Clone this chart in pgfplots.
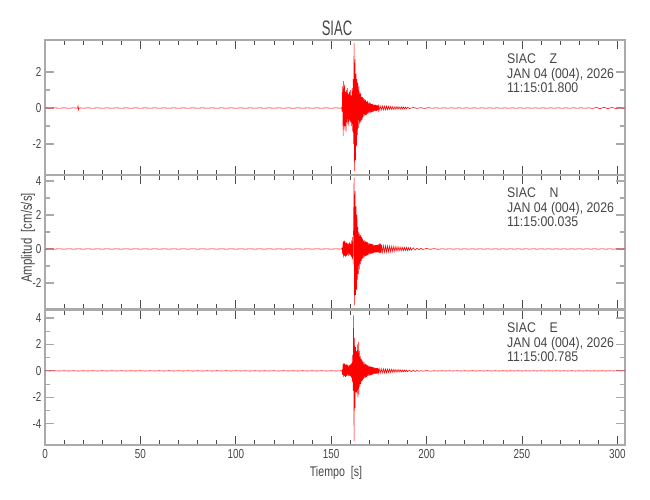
\documentclass[border=0pt]{standalone}
\usepackage{fontspec}
\setmainfont{Liberation Sans}[FakeStretch=0.76]
\newfontfamily\titlefont{Liberation Sans}[FakeStretch=0.62]
\newfontfamily\notefont{Liberation Sans}[FakeStretch=0.88]
\usepackage{pgfplots}
\pgfplotsset{compat=1.18}
\definecolor{framegray}{RGB}{170,170,170}
\definecolor{txt}{RGB}{70,70,70}
\definecolor{trace}{RGB}{255,0,0}
\pgfplotsset{panel/.style={
  scale only axis, width=580pt,
  xmin=0, xmax=304,
  axis line style={framegray, line width=1.6pt},
  xtick={0,50,...,300}, minor x tick num=4,
  minor y tick num=1,
  tick align=inside,
  xtick pos=both, ytick pos=both,
  major tick length=9pt, minor tick length=5pt,
  x tick style={black!70, line width=0.8pt},
  y tick style={framegray, line width=1.2pt},
  tick label style={font=\fontsize{13}{14}\selectfont, text=txt},
  /pgf/number format/assume math mode=true,
  xticklabel style={yshift=-1pt},
  clip=true,
}}
\begin{document}
\begin{tikzpicture}
\path[use as bounding box] (0,0) rectangle (650pt,500pt);
% ---------------- Z ----------------
\begin{axis}[panel, at={(45pt,325pt)}, anchor=south west, height=135pt,
  ymin=-3.72, ymax=3.78, ytick={-2,0,2}, xticklabels={}]
\addplot[trace, line width=0.55pt] coordinates {
(0,0.01) (2.5,-0.01) (5,0.01) (7.5,-0.01) (10,0.01) (12.5,-0.01) (15,0.01) (17,-0.01) (17.3,0.12) (17.6,-0.1) (18,0.01) (20,-0.01) (22.5,0.01) (25,-0.01) (27.5,0.01) (30,-0.01) (32.5,0.01) (35,-0.01) (37.5,0.01) (40,-0.01) (42.5,0.01) (45,-0.01) (47.5,0.01) (50,-0.01) (52.5,0.01) (55,-0.01) (57.5,0.01) (60,-0.01) (62.5,0.01) (65,-0.01) (67.5,0.01) (70,-0.01) (72.5,0.01) (75,-0.01) (77.5,0.01) (80,-0.01) (82.5,0.01) (85,-0.01) (87.5,0.01) (90,-0.01) (92.5,0.01) (95,-0.01) (97.5,0.01) (100,-0.01) (102.5,0.01) (105,-0.01) (107.5,0.01) (110,-0.01) (112.5,0.01) (115,-0.01) (117.5,0.01) (120,-0.01) (122.5,0.01) (125,-0.01) (127.5,0.01) (130,-0.01) (132.5,0.01) (135,-0.01) (137.5,0.01) (140,-0.01) (142.5,0.01) (145,-0.01) (147.5,0.01) (150,-0.01) (152.5,0.01) (155,-0.01) (155.5,0.02)
(155.75,-0.2) (156.0,1.2) (156.25,-1.55) (156.5,1.5) (156.75,-1.2) (157.0,1.3) (157.25,-1.0) (157.5,0.9) (157.75,-1.3) (158.0,1.0) (158.25,-0.8) (158.5,1.1) (158.75,-0.9) (159.0,0.8) (159.25,-1.0) (159.5,0.9) (159.75,-0.7) (160.0,1.0) (160.25,-0.8) (160.5,0.7) (160.75,-1.0) (161.0,1.1) (161.25,-1.3) (161.5,1.6) (161.75,-2.0) (162.0,3.6) (162.25,-3.5) (162.5,2.7) (162.75,-2.9) (163.0,1.9) (163.25,-2.1) (163.5,1.6) (163.75,-1.5) (164.0,1.4) (164.25,-1.1) (164.5,1.2) (164.75,-0.9) (165.0,0.9) (165.25,-0.8) (165.5,0.8) (165.75,-0.7) (166.0,0.6) (166.25,-0.65) (166.5,0.6) (166.75,-0.5) (167.0,0.55) (167.25,-0.45) (167.5,0.5) (167.75,-0.4) (168.0,0.45) (168.25,-0.4) (168.5,0.35) (168.75,-0.35) (169.0,0.4) (169.25,-0.3) (169.5,0.3) (169.75,-0.3) (170.0,0.32) (170.25,-0.25) (170.5,0.28) (170.75,-0.25) (171.0,0.22) (171.25,-0.22) (171.5,0.25) (171.75,-0.2) (172.0,0.2) (172.25,-0.2) (172.5,0.18) (172.75,-0.17) (173.0,0.2) (173.25,-0.15) (173.5,0.16) (173.75,-0.15) (174.0,0.14) (174.25,-0.13) (174.5,0.15) (174.75,-0.12) (175.0,0.13)
(175.5,-0.12) (176,0.12) (176.5,-0.11) (177,0.12) (177.5,-0.1) (178,0.11) (178.5,-0.1) (179,0.1) (179.5,-0.09) (180,0.1) (180.5,-0.08) (181,0.09) (181.5,-0.08) (182,0.08) (182.5,-0.08) (183,0.07) (183.5,-0.07) (184,0.08) (184.5,-0.06) (185,0.07) (185.5,-0.06) (186,0.06) (186.5,-0.06) (187,0.07) (187.5,-0.05) (188,0.06) (188.5,-0.05) (189,0.05) (189.5,-0.05) (190,0.05)
(191,-0.03) (193,0.03) (195,-0.02) (197,0.02) (199,-0.02) (201,0.02) (203,-0.01) (205,0.01) (207,-0.01) (209,0.01) (211,-0.01) (213,0.01) (215,-0.01) (217,0.01) (219,-0.01) (221,0.01) (223,-0.01) (225,0.01) (227,-0.01) (229,0.01) (231,-0.01) (233,0.01) (235,-0.01) (237,0.01) (239,-0.01) (241,0.01) (243,-0.01) (245,0.01) (247,-0.01) (249,0.01) (251,-0.01) (253,0.01) (255,-0.01) (257,0.01) (259,-0.01) (261,0.01) (263,-0.01) (265,0.01) (267,-0.01) (269,0.01) (271,-0.01) (273,0.01) (275,-0.01) (277,0.01) (279,-0.01) (281,0.01) (283,-0.01) (285,0.01) (287,-0.02) (289,0.03) (291,-0.04) (293,0.05) (295,-0.04) (297,0.03) (299,-0.02) (301,0.01) (303,-0.01) (304,0.01)
};
\end{axis}
% ---------------- N ----------------
\begin{axis}[panel, at={(45pt,191pt)}, anchor=south west, height=134pt,
  ymin=-3.53, ymax=4.35, ytick={-2,0,2,4}, xticklabels={}]
\addplot[trace, line width=0.55pt] coordinates {
(0,-0.01) (2.5,0.01) (5,-0.01) (7.5,0.01) (10,-0.01) (12.5,0.01) (15,-0.01) (17.5,0.01) (20,-0.01) (22.5,0.01) (25,-0.01) (27.5,0.01) (30,-0.01) (32.5,0.01) (35,-0.01) (37.5,0.01) (40,-0.01) (42.5,0.01) (45,-0.01) (47.5,0.01) (50,-0.01) (52.5,0.01) (55,-0.01) (57.5,0.01) (60,-0.01) (62.5,0.01) (65,-0.01) (67.5,0.01) (70,-0.01) (72.5,0.01) (75,-0.01) (77.5,0.01) (80,-0.01) (82.5,0.01) (85,-0.01) (87.5,0.01) (90,-0.01) (92.5,0.01) (95,-0.01) (97.5,0.01) (100,-0.01) (102.5,0.01) (105,-0.01) (107.5,0.01) (110,-0.01) (112.5,0.01) (115,-0.01) (117.5,0.01) (120,-0.01) (122.5,0.01) (125,-0.01) (127.5,0.01) (130,-0.01) (132.5,0.01) (135,-0.01) (137.5,0.01) (140,-0.01) (142.5,0.01) (145,-0.01) (147.5,0.01) (150,-0.01) (152.5,0.01) (155,-0.01) (155.5,0.02)
(155.75,0.05) (156.0,-0.3) (156.25,0.45) (156.5,-0.5) (156.75,0.5) (157.0,-0.4) (157.25,0.45) (157.5,-0.45) (157.75,0.35) (158.0,-0.4) (158.25,0.4) (158.5,-0.35) (158.75,0.3) (159.0,-0.4) (159.25,0.35) (159.5,-0.3) (159.75,0.4) (160.0,-0.35) (160.25,0.3) (160.5,-0.45) (160.75,0.5) (161.0,-0.6) (161.25,0.7) (161.5,-0.9) (161.75,1.5) (162.0,4.2) (162.25,-3.3) (162.5,3.4) (162.75,-2.7) (163.0,2.5) (163.25,-2.4) (163.5,2.0) (163.75,-1.8) (164.0,1.3) (164.25,-1.5) (164.5,1.0) (164.75,-1.2) (165.0,0.9) (165.25,-0.9) (165.5,0.8) (165.75,-0.7) (166.0,0.7) (166.25,-0.6) (166.5,0.6) (166.75,-0.55) (167.0,0.5) (167.25,-0.5) (167.5,0.5) (167.75,-0.45) (168.0,0.45) (168.25,-0.4) (168.5,0.42) (168.75,-0.38) (169.0,0.4) (169.25,-0.35) (169.5,0.35) (169.75,-0.33) (170.0,0.33) (170.25,-0.3) (170.5,0.32) (170.75,-0.28) (171.0,0.3) (171.25,-0.27) (171.5,0.28) (171.75,-0.25) (172.0,0.25) (172.25,-0.25) (172.5,0.24) (172.75,-0.22) (173.0,0.23) (173.25,-0.21) (173.5,0.22) (173.75,-0.2) (174.0,0.22) (174.25,-0.2) (174.5,0.25) (174.75,-0.22) (175.0,0.3) (175.25,-0.25) (175.5,0.35) (175.75,-0.25) (176.0,0.3) (176.25,-0.2) (176.5,0.22)
(177,-0.2) (177.5,0.2) (178,-0.19) (178.5,0.19) (179,-0.18) (179.5,0.18) (180,-0.17) (180.5,0.17) (181,-0.16) (181.5,0.16) (182,-0.15) (182.5,0.15) (183,-0.14) (183.5,0.14) (184,-0.13) (184.5,0.13) (185,-0.12) (185.5,0.12) (186,-0.11) (186.5,0.11) (187,-0.1) (187.5,0.1) (188,-0.1) (188.5,0.1) (189,-0.09) (189.5,0.09) (190,-0.09) (190.5,0.08) (191,-0.08) (191.5,0.08) (192,-0.07) (193,0.07) (194,-0.06) (195,0.05) (196,-0.04) (197,0.04) (198,-0.03)
(200,0.03) (202,-0.02) (204,0.02) (206,-0.02) (208,0.01) (210,-0.01) (212,0.01) (214,-0.01) (216,0.01) (218,-0.01) (220,0.01) (222,-0.01) (224,0.01) (226,-0.01) (228,0.01) (230,-0.01) (232,0.01) (234,-0.01) (236,0.01) (238,-0.01) (240,0.01) (242,-0.01) (244,0.01) (246,-0.01) (248,0.01) (250,-0.01) (252,0.01) (254,-0.01) (256,0.01) (258,-0.01) (260,0.01) (262,-0.01) (264,0.01) (266,-0.01) (268,0.01) (270,-0.01) (272,0.01) (274,-0.01) (276,0.01) (278,-0.01) (280,0.01) (282,-0.01) (284,0.01) (286,-0.01) (288,0.01) (290,-0.01) (292,0.01) (294,-0.01) (296,0.01) (298,-0.01) (300,0.01) (302,-0.01) (304,0.01)
};
\end{axis}
% ---------------- E ----------------
\begin{axis}[panel, at={(45pt,55pt)}, anchor=south west, height=135pt,
  ymin=-5.6, ymax=4.6, ytick={-4,-2,0,2,4}]
\addplot[trace, line width=0.55pt] coordinates {
(0,0.01) (2.5,-0.01) (5,0.01) (7.5,-0.01) (10,0.01) (12.5,-0.01) (15,0.01) (17.5,-0.01) (20,0.01) (22.5,-0.01) (25,0.01) (27.5,-0.01) (30,0.01) (32.5,-0.01) (35,0.01) (37.5,-0.01) (40,0.01) (42.5,-0.01) (45,0.01) (47.5,-0.01) (50,0.01) (52.5,-0.01) (55,0.01) (57.5,-0.01) (60,0.01) (62.5,-0.01) (65,0.01) (67.5,-0.01) (70,0.01) (72.5,-0.01) (75,0.01) (77.5,-0.01) (80,0.01) (82.5,-0.01) (85,0.01) (87.5,-0.01) (90,0.01) (92.5,-0.01) (95,0.01) (97.5,-0.01) (100,0.01) (102.5,-0.01) (105,0.01) (107.5,-0.01) (110,0.01) (112.5,-0.01) (115,0.01) (117.5,-0.01) (120,0.01) (122.5,-0.01) (125,0.01) (127.5,-0.01) (130,0.01) (132.5,-0.01) (135,0.01) (137.5,-0.01) (140,0.01) (142.5,-0.01) (145,0.01) (147.5,-0.01) (150,0.01) (152.5,-0.01) (155,0.01) (155.5,-0.02)
(155.75,0.05) (156.0,-0.3) (156.25,0.55) (156.5,-0.45) (156.75,0.6) (157.0,-0.4) (157.25,0.5) (157.5,-0.45) (157.75,0.45) (158.0,-0.4) (158.25,0.5) (158.5,-0.35) (158.75,0.45) (159.0,-0.4) (159.25,0.4) (159.5,-0.35) (159.75,0.45) (160.0,-0.4) (160.25,0.5) (160.5,-0.5) (160.75,0.6) (161.0,-0.8) (161.25,1.2) (161.5,-1.5) (161.75,4.2) (162.0,-5.3) (162.25,2.5) (162.5,-2.8) (162.75,1.8) (163.0,-1.6) (163.25,1.5) (163.5,-1.7) (163.75,2.0) (164.0,-2.0) (164.25,2.2) (164.5,-1.8) (164.75,1.5) (165.0,-1.2) (165.25,1.1) (165.5,-1.0) (165.75,0.9) (166.0,-0.8) (166.25,0.8) (166.5,-0.7) (166.75,0.7) (167.0,-0.6) (167.25,0.65) (167.5,-0.55) (167.75,0.55) (168.0,-0.5) (168.25,0.5) (168.5,-0.45) (168.75,0.45) (169.0,-0.4) (169.25,0.4) (169.5,-0.38) (169.75,0.38) (170.0,-0.35) (170.25,0.35) (170.5,-0.33) (170.75,0.32) (171.0,-0.3) (171.25,0.3) (171.5,-0.28) (171.75,0.28) (172.0,-0.26) (172.25,0.26) (172.5,-0.24) (172.75,0.25) (173.0,-0.22) (173.25,0.22) (173.5,-0.21) (173.75,0.2) (174.0,-0.2) (174.25,0.2) (174.5,-0.19) (174.75,0.18) (175.0,-0.18)
(175.5,0.17) (176,-0.17) (176.5,0.16) (177,-0.16) (177.5,0.15) (178,-0.15) (178.5,0.14) (179,-0.14) (179.5,0.13) (180,-0.13) (180.5,0.13) (181,-0.12) (181.5,0.12) (182,-0.11) (182.5,0.11) (183,-0.1) (183.5,0.1) (184,-0.1) (184.5,0.09) (185,-0.09) (185.5,0.09) (186,-0.08) (186.5,0.08) (187,-0.08) (187.5,0.07) (188,-0.07) (188.5,0.07) (189,-0.06) (189.5,0.06) (190,-0.06) (191,0.05) (192,-0.05) (193,0.04) (194,-0.04) (195,0.03) (196,-0.03) (197,0.02) (198,-0.02)
(200,0.02) (202,-0.02) (204,0.01) (206,-0.01) (208,0.01) (210,-0.01) (212,0.01) (214,-0.01) (216,0.01) (218,-0.01) (220,0.01) (222,-0.01) (224,0.01) (226,-0.01) (228,0.01) (230,-0.01) (232,0.01) (234,-0.01) (236,0.01) (238,-0.01) (240,0.01) (242,-0.01) (244,0.01) (246,-0.01) (248,0.01) (250,-0.01) (252,0.01) (254,-0.01) (256,0.01) (258,-0.01) (260,0.01) (262,-0.01) (264,0.01) (266,-0.01) (268,0.01) (270,-0.01) (272,0.01) (274,-0.01) (276,0.01) (278,-0.01) (280,0.01) (282,-0.01) (284,0.01) (286,-0.01) (288,0.01) (290,-0.01) (292,0.01) (294,-0.01) (296,0.01) (298,-0.01) (300,0.01) (302,-0.01) (304,0.01)
};
\end{axis}
% ---------------- texts ----------------
\node[text=txt, font=\titlefont\fontsize{21}{24}\selectfont] at (337pt,472pt) {SIAC};
\node[text=txt, font=\fontsize{14}{16}\selectfont] at (336pt,27pt) {Tiempo\ \ [s]};
\node[text=txt, font=\fontsize{15}{16}\selectfont, rotate=90] at (28pt,262pt) {Amplitud\ \ [cm/s/s]};
\begin{scope}[every node/.style={text=txt, font=\notefont\fontsize{14}{14.5}\selectfont, align=left, anchor=north west, inner sep=0pt}]
\node at (507pt,446pt) {SIAC\ \ \ \ Z\\JAN 04 (004), 2026\\11:15:01.800};
\node at (507pt,312pt) {SIAC\ \ \ \ N\\JAN 04 (004), 2026\\11:15:00.035};
\node at (507pt,177pt) {SIAC\ \ \ \ E\\JAN 04 (004), 2026\\11:15:00.785};
\end{scope}
\end{tikzpicture}
\end{document}
